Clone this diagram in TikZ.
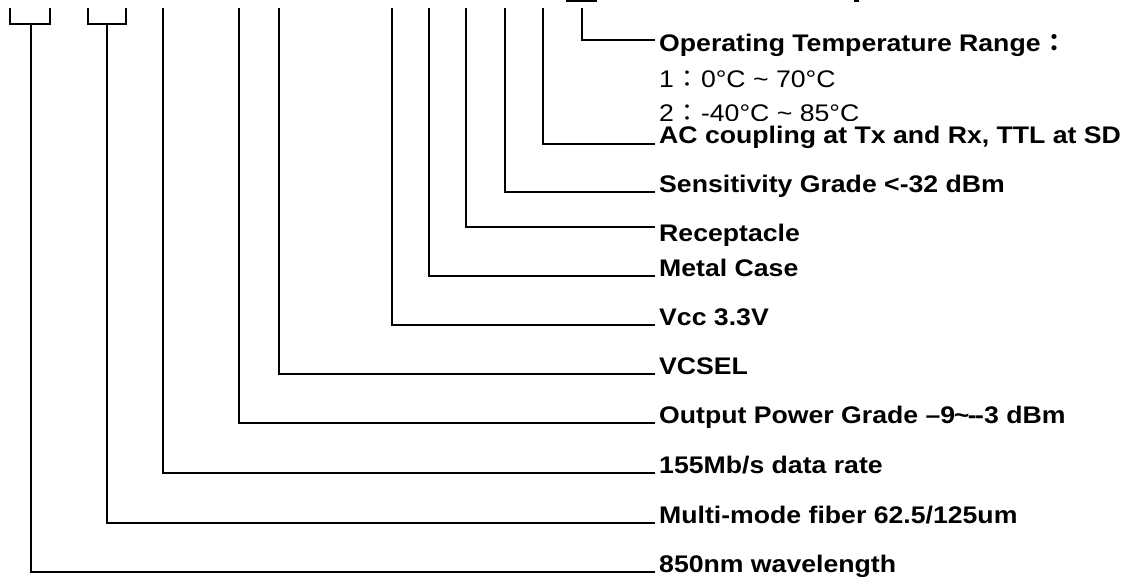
\documentclass[tikz,border=0pt]{standalone}
\usepackage{fontspec}
\newfontfamily\labfont[FakeStretch=1.11]{Liberation Sans}
\newfontfamily\cjk{Noto Sans CJK TC}
\newcommand{\fwc}{\makebox[27pt]{\cjk ：}}
\newcommand{\tld}{\kern-1.5pt\textasciitilde\kern-1.5pt}
\begin{document}
\begin{tikzpicture}[x=1pt,y=-1pt,
  lead/.style={line width=1.6pt,line cap=rect},
  lbl/.style={anchor=base west,inner sep=0pt,font=\labfont\bfseries\fontsize{24}{28}\selectfont},
  lblr/.style={anchor=base west,inner sep=0pt,font=\labfont\fontsize{24}{28}\selectfont}]
\useasboundingbox (0,0) rectangle (1133,576);
% cut-off fragments at the top edge
\fill (566,0) rectangle (597,1.6);
\fill (854,0) rectangle (859,2.2);
% label texts
\node[lbl]  (op)   at (659,51)  {Operating Temperature Range\fwc};
\node[lblr] (op1)  at (659,87)  {1\fwc0°C \textasciitilde{} 70°C};
\begin{scope}
\clip (640,95) rectangle (900,120.5);
\node[lblr,text depth=0pt] (op2) at (659,121.5) {2\fwc-40°C \textasciitilde{} 85°C};
\end{scope}
\node[lbl]  (ac)   at (659,143) {AC coupling at Tx and Rx, TTL at SD};
\node[lbl]  (sens) at (659,192) {Sensitivity Grade <-32 dBm};
\node[lbl]  (rec)  at (659,241) {Receptacle};
\node[lbl]  (met)  at (659,276) {Metal Case};
\node[lbl]  (vcc)  at (659,325) {Vcc 3.3V};
\node[lbl]  (vcs)  at (659,374) {VCSEL};
\node[lbl]  (out)  at (659,423) {Output Power Grade –9\tld-\kern-1.5pt-3 dBm};
\node[lbl]  (rate) at (659,473) {155Mb/s data rate};
\node[lbl]  (mm)   at (659,523) {Multi-mode fiber 62.5/125um};
\node[lbl]  (wl)   at (659,572) {850nm wavelength};
% leader end points
\foreach \n/\y in {op/40,ac/144,sens/192,rec/227,met/276,vcc/325,vcs/374,out/423,rate/473,mm/523,wl/572}
  \coordinate (e\n) at (654,\y);
% leader tops
\coordinate (top) at (582,9);
\coordinate (tac) at (543,9);
\coordinate (tsens) at (505,9);
\coordinate (trec) at (466,9);
\coordinate (tmet) at (429,9);
\coordinate (tvcc) at (392,9);
\coordinate (tvcs) at (279,9);
\coordinate (tout) at (239,9);
\coordinate (trate) at (163,9);
\coordinate (tmm) at (107,24);
\coordinate (twl) at (31,24);
% brackets
\draw[lead] (10,9) -- (10,24) -- (50,24) -- (50,9);
\draw[lead] (88,9) -- (88,24) -- (126,24) -- (126,9);
% leaders
\foreach \n in {op,ac,sens,rec,met,vcc,vcs,out,rate,mm,wl}
  \draw[lead] (t\n) |- (e\n);
\end{tikzpicture}
\end{document}
